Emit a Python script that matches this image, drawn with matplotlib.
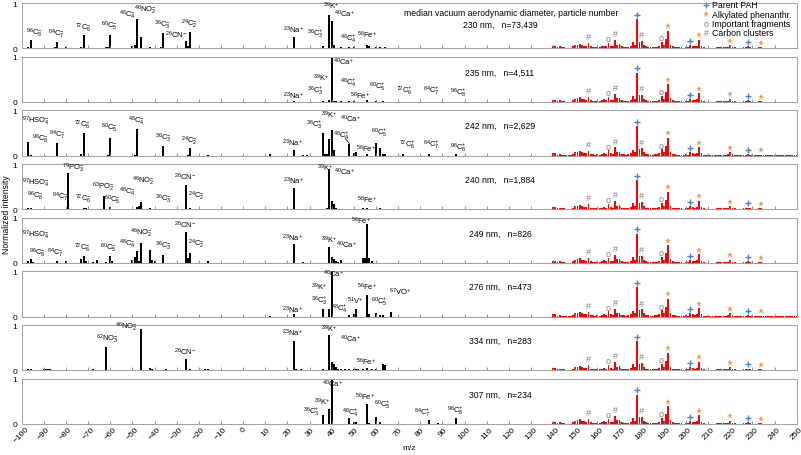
import numpy as np
import matplotlib
matplotlib.use("Agg")
from matplotlib import pyplot as plt

plt.rcParams['font.family'] = ['Liberation Sans', 'DejaVu Sans']
plt.rcParams['mathtext.fontset'] = 'custom'
plt.rcParams['mathtext.rm'] = 'Liberation Sans'
plt.rcParams['mathtext.it'] = 'Liberation Sans:italic'
plt.rcParams['mathtext.bf'] = 'Liberation Sans:bold'

# panel titles
sizes = ["230 nm", "235 nm", "242 nm", "240 nm", "249 nm", "276 nm", "334 nm", "307 nm"]
counts = ["73,439", "4,511", "2,629", "1,884", "826", "473", "283", "234"]

# black stick spectra (m/z, normalized intensity)
mz1 = [-97, -96, -85, -84, -80, -73, -72, -62, -61, -60, -50, -49, -48, -46, -42, -41, -37, -36,
       -26, -25, -24, -16, 12, 23, 36, 39, 40, 41, 44, 48, 50, 56, 57, 60, 62, 64]
in1 = [0.02, 0.19, 0.02, 0.13, 0.03, 0.02, 0.30, 0.02, 0.02, 0.30, 0.05, 0.08, 0.64, 0.26, 0.02, 0.01, 0.02, 0.33,
       0.16, 0.05, 0.36, 0.01, 0.01, 0.24, 0.04, 0.74, 0.61, 0.07, 0.02, 0.03, 0.03, 0.08, 0.04, 0.02, 0.02, 0.02]

mz2 = [23, 36, 39, 40, 41, 42, 44, 48, 50, 52, 56, 60, 63, 72, 84, 96]
in2 = [0.02, 0.03, 0.05, 1.0, 0.03, 0.02, 0.02, 0.03, 0.02, 0.01, 0.04, 0.03, 0.02, 0.01, 0.01, 0.01]

mz3 = [-97, -96, -84, -73, -72, -61, -60, -49, -48, -36, -25, -24, -16, 12, 23, 27, 29, 36, 37, 38, 39, 40, 41,
       48, 50, 51, 56, 60, 62, 63, 64, 72, 84, 96]
in3 = [0.31, 0.02, 0.28, 0.03, 0.50, 0.02, 0.40, 0.02, 0.58, 0.22, 0.02, 0.16, 0.01, 0.03, 0.13, 0.02, 0.02, 0.51,
       0.03, 0.03, 0.37, 0.57, 0.12, 0.26, 0.05, 0.09, 0.03, 0.29, 0.17, 0.03, 0.03, 0.04, 0.03, 0.03]

mz4 = [-97, -96, -79, -72, -71, -63, -60, -48, -47, -46, -42, -36, -26, -24, 23, 38, 39, 40, 41, 42, 54, 56, 62, 66]
in4 = [0.03, 0.02, 0.80, 0.02, 0.02, 0.29, 0.05, 0.06, 0.07, 0.16, 0.02, 0.01, 0.53, 0.03, 0.47, 0.02, 0.89, 0.18,
       0.12, 0.03, 0.03, 0.04, 0.02, 0.01]

mz5 = [-97, -96, -95, -84, -80, -73, -72, -71, -68, -66, -62, -60, -59, -50, -49, -48, -47, -46, -42, -41, -40,
       -36, -26, -25, -24, -16, 23, 27, 39, 40, 41, 42, 43, 44, 54, 55, 56, 57, 58]
in5 = [0.05, 0.09, 0.03, 0.05, 0.04, 0.08, 0.15, 0.04, 0.03, 0.06, 0.03, 0.16, 0.04, 0.06, 0.13, 0.26, 0.05, 0.44,
       0.29, 0.06, 0.05, 0.18, 0.68, 0.10, 0.23, 0.04, 0.41, 0.02, 0.35, 0.14, 0.08, 0.04, 0.03, 0.06, 0.10, 0.12,
       0.85, 0.12, 0.05]

mz6 = [12, 23, 36, 39, 40, 48, 50, 51, 56, 57, 60, 62, 63, 67]
in6 = [0.02, 0.05, 0.16, 0.17, 1.0, 0.03, 0.05, 0.17, 0.48, 0.05, 0.07, 0.03, 0.03, 0.11]

mz7 = [-97, -96, -90, -89, -88, -87, -80, -70, -68, -62, -46, -42, -41, -35, -26, -24, -17, -16, 23, 24, 26, 36,
       39, 40, 41, 42, 43, 44, 46, 48, 50, 51, 52, 54, 56, 58, 60, 63, 64]
in7 = [0.02, 0.02, 0.02, 0.03, 0.04, 0.03, 0.01, 0.01, 0.02, 0.52, 0.91, 0.05, 0.03, 0.02, 0.25, 0.03, 0.02, 0.02,
       0.64, 0.02, 0.02, 0.03, 0.79, 0.18, 0.15, 0.07, 0.03, 0.02, 0.03, 0.03, 0.04, 0.03, 0.03, 0.03, 0.06, 0.02,
       0.02, 0.14, 0.11]

mz8 = [23, 36, 39, 40, 48, 50, 51, 56, 57, 60, 62, 70, 74, 84, 88, 96]
in8 = [0.01, 0.20, 0.32, 1.0, 0.13, 0.05, 0.05, 0.44, 0.02, 0.15, 0.04, 0.01, 0.01, 0.09, 0.02, 0.13]

# PAH region (red), m/z 140..250
pah_mz = list(range(140, 251))
pah_int = [0.05, 0.05, 0.02, 0.04, 0.02, 0.02, 0.01, 0.01, 0.01, 0.04,
           0.07, 0.08, 0.10, 0.07, 0.06, 0.05, 0.11, 0.04, 0.03, 0.02,
           0.03, 0.02, 0.04, 0.06, 0.04, 0.12, 0.05, 0.04, 0.18, 0.08,
           0.09, 0.04, 0.03, 0.02, 0.03, 0.05, 0.13, 0.07, 0.65, 0.15,
           0.16, 0.07, 0.04, 0.03, 0.02, 0.02, 0.03, 0.03, 0.05, 0.14,
           0.07, 0.21, 0.39, 0.08, 0.04, 0.03, 0.02, 0.02, 0.02, 0.01,
           0.03, 0.02, 0.07, 0.05, 0.04, 0.06, 0.19, 0.05, 0.02, 0.01,
           0.01, 0.01, 0.01, 0.01, 0.02, 0.02, 0.02, 0.02, 0.02, 0.03,
           0.07, 0.03, 0.02, 0.01, 0.01, 0.01, 0.02, 0.02, 0.04, 0.02,
           0.01, 0.01, 0.01, 0.02, 0.02, 0.01, 0.01, 0.01, 0.01, 0.01,
           0.01, 0.01, 0.01, 0.01, 0.01, 0.01, 0.01, 0.01, 0.01, 0.01, 0.01]

parent_pah = [178, 202, 228]
alkyl_phen = [192, 206, 220, 234]
fragments = [165, 189]
clusters = [156, 168, 180]

spectra = [(mz1, in1), (mz2, in2), (mz3, in3), (mz4, in4), (mz5, in5), (mz6, in6), (mz7, in7), (mz8, in8)]


def ion(m, f, n="", q=""):
    s = r"$^{%d}\mathrm{%s}" % (m, f)
    if n and q:
        s += r"_{%s}^{%s}" % (n, q)
    elif q:
        s += r"^{%s}" % q
    return s + "$"


# ion labels: (text, x, y)
labels = [
    [(ion(96, "C", "8", "-"), -94.5, 0.35), (ion(84, "C", "7", "-"), -84.2, 0.32), (ion(72, "C", "6", "-"), -72.4, 0.47),
     (ion(60, "C", "5", "-"), -60.3, 0.50), (ion(48, "C", "4", "-"), -52.3, 0.74), (ion(46, "NO", "2", "-"), -44.4, 0.86),
     (ion(36, "C", "3", "-"), -36.3, 0.52), (ion(26, "CN", "", "-"), -30.1, 0.30), (ion(24, "C", "2", "-"), -24.1, 0.54),
     (ion(23, "Na", "", "+"), 22.7, 0.41), (ion(36, "C", "3", "+"), 32.7, 0.32), (ion(39, "K", "", "+"), 39.8, 0.95),
     (ion(40, "Ca", "", "+"), 45.9, 0.78), (ion(48, "C", "4", "+"), 47.7, 0.21), (ion(56, "Fe", "", "+"), 56.0, 0.30)],
    [(ion(23, "Na", "", "+"), 22.7, 0.15), (ion(36, "C", "3", "+"), 32.5, 0.25), (ion(39, "K", "", "+"), 35.3, 0.54),
     (ion(40, "Ca", "", "+"), 45.5, 0.90), (ion(48, "C", "4", "+"), 47.7, 0.43), (ion(56, "Fe", "", "+"), 52.6, 0.15),
     (ion(60, "C", "5", "+"), 60.8, 0.35), (ion(72, "C", "6", "+"), 73.0, 0.25), (ion(84, "C", "7", "+"), 85.0, 0.25),
     (ion(96, "C", "8", "+"), 97.0, 0.22)],
    [(ion(97, "HSO", "4", "-"), -93.4, 0.77), (ion(96, "C", "8", "-"), -91.4, 0.38), (ion(84, "C", "7", "-"), -84.1, 0.47),
     (ion(72, "C", "6", "-"), -72.6, 0.69), (ion(60, "C", "5", "-"), -60.5, 0.62), (ion(48, "C", "4", "-"), -48.2, 0.77),
     (ion(36, "C", "3", "-"), -36.0, 0.40), (ion(24, "C", "2", "-"), -24.5, 0.33), (ion(23, "Na", "", "+"), 22.2, 0.29),
     (ion(36, "C", "3", "+"), 32.3, 0.68), (ion(39, "K", "", "+"), 39.0, 0.91), (ion(40, "Ca", "", "+"), 48.5, 0.82),
     (ion(48, "C", "4", "+"), 44.5, 0.44), (ion(56, "Fe", "", "+"), 55.7, 0.16), (ion(60, "C", "5", "+"), 61.3, 0.52),
     (ion(72, "C", "6", "+"), 74.0, 0.25), (ion(84, "C", "7", "+"), 85.0, 0.25), (ion(96, "C", "8", "+"), 97.0, 0.18)],
    [(ion(79, "PO", "3", "-"), -77.0, 0.93), (ion(97, "HSO", "4", "-"), -93.4, 0.59), (ion(96, "C", "8", "-"), -93.8, 0.30),
     (ion(84, "C", "7", "-"), -82.5, 0.28), (ion(72, "C", "6", "-"), -72.4, 0.24), (ion(63, "PO", "2", "-"), -63.3, 0.51),
     (ion(60, "C", "5", "-"), -59.0, 0.22), (ion(48, "C", "4", "-"), -52.3, 0.39), (ion(46, "NO", "2", "-"), -45.0, 0.63),
     (ion(36, "C", "3", "-"), -36.1, 0.24), (ion(26, "CN", "", "-"), -26.1, 0.72), (ion(24, "C", "2", "-"), -21.1, 0.31),
     (ion(23, "Na", "", "+"), 22.9, 0.64), (ion(39, "K", "", "+"), 37.0, 0.93), (ion(40, "Ca", "", "+"), 45.6, 0.83),
     (ion(56, "Fe", "", "+"), 55.9, 0.22)],
    [(ion(97, "HSO", "4", "-"), -93.4, 0.63), (ion(96, "C", "8", "-"), -92.8, 0.24), (ion(84, "C", "7", "-"), -85.0, 0.24),
     (ion(72, "C", "6", "-"), -72.8, 0.35), (ion(60, "C", "5", "-"), -61.1, 0.35), (ion(48, "C", "4", "-"), -52.3, 0.44),
     (ion(46, "NO", "2", "-"), -45.8, 0.67), (ion(36, "C", "3", "-"), -36.2, 0.39), (ion(26, "CN", "", "-"), -26.1, 0.85),
     (ion(24, "C", "2", "-"), -21.0, 0.44), (ion(23, "Na", "", "+"), 22.2, 0.57), (ion(39, "K", "", "+"), 38.7, 0.53),
     (ion(40, "Ca", "", "+"), 46.6, 0.41), (ion(56, "Fe", "", "+"), 53.4, 0.95)],
    [(ion(23, "Na", "", "+"), 22.2, 0.16), (ion(40, "Ca", "", "+"), 40.9, 0.95), (ion(39, "K", "", "+"), 34.1, 0.68),
     (ion(36, "C", "3", "+"), 34.6, 0.36), (ion(48, "C", "4", "+"), 43.6, 0.19), (ion(51, "V", "", "+"), 50.6, 0.37),
     (ion(56, "Fe", "", "+"), 56.0, 0.67), (ion(60, "C", "5", "+"), 61.3, 0.33), (ion(67, "VO", "", "+"), 71.0, 0.55)],
    [(ion(46, "NO", "2", "-"), -52.7, 0.97), (ion(62, "NO", "3", "-"), -61.5, 0.70), (ion(26, "CN", "", "-"), -26.1, 0.42),
     (ion(23, "Na", "", "+"), 22.2, 0.84), (ion(39, "K", "", "+"), 39.0, 0.92), (ion(40, "Ca", "", "+"), 48.6, 0.70),
     (ion(56, "Fe", "", "+"), 55.3, 0.20)],
    [(ion(40, "Ca", "", "+"), 40.5, 0.89), (ion(39, "K", "", "+"), 35.5, 0.50), (ion(36, "C", "3", "+"), 31.0, 0.28),
     (ion(48, "C", "4", "+"), 48.4, 0.26), (ion(56, "Fe", "", "+"), 55.2, 0.61), (ion(60, "C", "5", "+"), 63.0, 0.44),
     (ion(84, "C", "7", "+"), 80.9, 0.26), (ion(96, "C", "8", "+"), 96.0, 0.30)],
]

blue = "#4f81bd"
orange = "#f79646"
grey = "#7f7f7f"

fig, axes = plt.subplots(8, 1, figsize=(8.01, 4.56), dpi=100, sharex=True)
fig.subplots_adjust(left=0.0271, right=0.9946, top=0.9912, bottom=0.068, hspace=0.185)

for i, ax in enumerate(axes):
    mz, inten = spectra[i]
    ax.bar(mz, inten, width=0.9, color="black", linewidth=0)
    ax.bar(pah_mz, pah_int, width=0.85, color="red", linewidth=0)
    pk = dict(zip(pah_mz, pah_int))
    ax.plot(parent_pah, [pk[m] + 0.09 for m in parent_pah], "+", color=blue, ms=4, mew=1)
    ax.plot(alkyl_phen, [pk[m] + 0.10 for m in alkyl_phen], "*", color=orange, ms=4.5, mew=0)
    for m in fragments:
        ax.text(m, pk[m] + 0.09, "o", color=grey, fontsize=6.5, ha="center", va="center")
    for m in clusters:
        ax.text(m, pk[m] + 0.14, "#", color=grey, fontsize=6.5, ha="center", va="center")
    for t, x, y in labels[i]:
        ax.text(x, y, t, fontsize=5.5, ha="center", va="center")
    ax.set_xlim(-100, 250)
    ax.set_ylim(0, 1)
    ax.set_yticks([0, 1])
    ax.set_yticklabels(["0", "1"])
    ax.set_xticks(np.arange(-100, 251, 10))
    ax.tick_params(axis="x", direction="in", length=2, color=grey, width=0.6, labelsize=6, rotation=45, pad=1)
    ax.tick_params(axis="y", length=0, pad=3, labelsize=6)
    for s in ax.spines.values():
        s.set_color("#a0a0a0")
        s.set_linewidth(0.7)
    if i == 0:
        ax.text(120.9, 0.80, "median vacuum aerodynamic diameter, particle number", fontsize=6.2, ha="center", va="center")
        ax.text(116, 0.54, sizes[i] + ",   n=" + counts[i], fontsize=6.2, ha="center", va="center")
    else:
        ax.text(116, 0.66, sizes[i] + ",   n=" + counts[i], fontsize=6.2, ha="center", va="center")

# leader line for 48C4+ in panel 3
axes[2].plot([46.0, 48.0], [0.38, 0.27], color="black", lw=0.5)

# legend in first panel
leg = axes[0]
leg.plot([209.1], [0.96], "+", color=blue, ms=4, mew=1, clip_on=False)
leg.plot([209.1], [0.75], "*", color=orange, ms=4.5, mew=0)
leg.text(209.1, 0.54, "o", color=grey, fontsize=6.5, ha="center", va="center")
leg.text(209.1, 0.35, "#", color=grey, fontsize=6.5, ha="center", va="center")
for y, t in zip([0.96, 0.75, 0.54, 0.35],
                ["Parent PAH", "Alkylated phenanthr.", "Important fragments", "Carbon clusters"]):
    leg.text(211.8, y, t, fontsize=6.3, ha="left", va="center")

for ax in axes[:-1]:
    ax.tick_params(axis="x", labelbottom=False)

axes[-1].set_xlabel("m/z", fontsize=6, labelpad=0)
fig.text(0.003, 0.53, "Normalized intensity", rotation=90, fontsize=6.2, ha="left", va="center")

fig.savefig("out.png", dpi=100)
